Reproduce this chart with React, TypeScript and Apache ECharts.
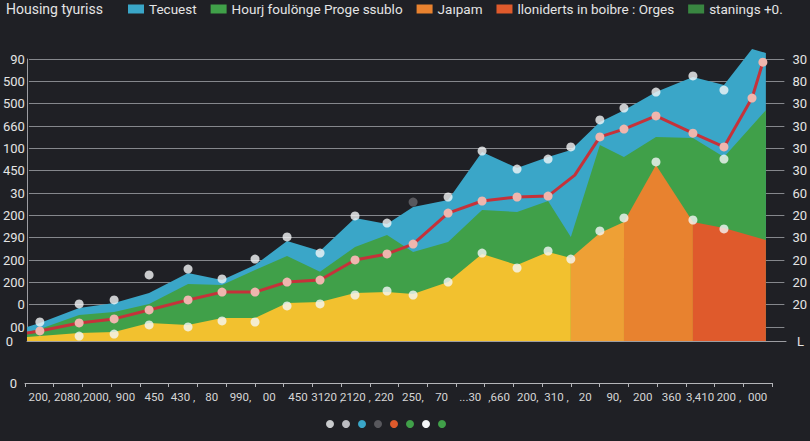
import { useEffect, useRef } from "react";
import * as echarts from "echarts";

// x positions are periods along the axis, y values are in chart units
const blueArea: [number, number][] = [
  [0, 63], [0.39, 81], [1.58, 148], [2.64, 170], [3.7, 215], [4.88, 305],
  [5.91, 273], [6.91, 340], [7.88, 448], [8.88, 403], [9.94, 551], [10.91, 524],
  [11.7, 600], [12.76, 631], [13.79, 846], [14.85, 775], [15.79, 824], [16.48, 855],
  [17.36, 981], [18.09, 1034], [19.06, 1115], [20.18, 1182], [21.12, 1146],
  [21.97, 1308], [22.39, 1290],
];
const greenArea: [number, number][] = [
  [0, 40], [0.39, 54], [1.58, 116], [2.64, 130], [3.7, 166], [4.88, 255],
  [5.91, 251], [6.91, 318], [7.88, 381], [8.88, 310], [9.94, 421], [10.91, 475],
  [11.7, 399], [12.76, 443], [13.79, 587], [14.85, 578], [15.79, 627], [16.48, 466],
  [17.36, 878], [18.09, 824], [19.06, 914], [20.18, 909], [21.12, 824], [22.39, 1034],
];
const yellowArea: [number, number][] = [
  [0, 18], [0.39, 22], [1.58, 36], [2.64, 40], [3.7, 81], [4.88, 72],
  [5.91, 103], [6.91, 103], [7.88, 170], [8.88, 175], [9.94, 215], [10.91, 219],
  [11.7, 210], [12.76, 264], [13.79, 390], [14.85, 340], [15.79, 399], [16.48, 372],
];
const lightOrangeArea: [number, number][] = [[16.48, 372], [17.36, 484], [18.09, 533]];
const orangeArea: [number, number][] = [[18.09, 533], [19.06, 788], [20.18, 533]];
const redArea: [number, number][] = [[20.18, 533], [21.12, 506], [22.39, 452]];

const trendLine: [number, number][] = [
  [0, 36], [0.39, 45], [1.58, 81], [2.64, 99], [3.7, 139], [4.88, 184],
  [5.91, 219], [6.91, 219], [7.88, 264], [8.88, 273], [9.94, 363], [10.91, 390],
  [11.7, 434], [12.76, 573], [13.79, 627], [14.85, 645], [15.79, 649], [16.6, 743],
  [17.36, 914], [18.09, 949], [19.06, 1008], [20.18, 931], [21.12, 869],
  [21.97, 1088], [22.3, 1249],
];
const trendNoMarker = [0, 17];

const peakDots: [number, number][] = [
  [0.39, 85], [1.58, 166], [2.64, 184], [3.7, 296], [4.88, 322], [5.91, 278],
  [6.91, 367], [7.88, 466], [8.88, 394], [9.94, 560], [10.91, 528], [12.76, 645],
  [13.79, 851], [14.85, 770], [15.79, 815], [16.48, 869], [17.36, 990],
  [18.09, 1043], [19.06, 1115], [20.18, 1187], [21.12, 1124],
];
const baseDots: [number, number][] = [
  [1.58, 22], [2.64, 31], [3.7, 72], [4.88, 63], [5.91, 90], [6.91, 85],
  [7.88, 157], [8.88, 166], [9.94, 206], [10.91, 224], [11.7, 206], [12.76, 264],
  [13.79, 394], [14.85, 327], [15.79, 403], [16.48, 367], [17.36, 493],
  [18.09, 551], [19.06, 802], [20.18, 542], [21.12, 502], [21.12, 815],
];
const outlierDots: [number, number][] = [[11.7, 622]];

const xLabels = [
  "200,", "2080,", "2000,", "900", "450", "430 ,", "80", "990,", "00", "450",
  "3120 ,", "2120 ,", "220", "250,", "70", "...30", ",660", "200,", "310 ,", "20",
  "90,", "200", "360", "3,410", "200 ,", "000",
];
// gridline labels, top to bottom
const leftLabels = ["90", "500", "500", "660", "100", "450", "30", "200", "290", "200", "200", "0", "00"];
const rightLabels = ["30", "80", "30", "30", "30", "30", "60", "20", "30", "20", "20", "20", ""];

const BG = "#1f2025";
const BLUE = "#3aa6c8";
const GREEN = "#40a049";
const YELLOW = "#f2c12f";
const LIGHT_ORANGE = "#eea035";
const ORANGE = "#e8822f";
const RED = "#df5a2c";
const WHITE = "#f4f6f8";
const TEXT = "#e4e4e4";

const area = (name: string, color: string, data: [number, number][], extra = {}) => ({
  name,
  type: "line",
  data,
  showSymbol: false,
  symbol: "none",
  lineStyle: { width: 0 },
  itemStyle: { color },
  areaStyle: { color, opacity: 1 },
  ...extra,
});

const dots = (name: string, color: string, data: [number, number][]) => ({
  name,
  type: "scatter",
  data,
  symbolSize: 9,
  itemStyle: { color },
  z: 5,
});

export default function App() {
  const chartRef = useRef<HTMLDivElement>(null);

  useEffect(() => {
    if (!chartRef.current) return;
    const chart = echarts.init(chartRef.current, null, { renderer: "svg" });

    const option = {
      animation: false,
      backgroundColor: BG,
      textStyle: { fontFamily: "Roboto" },
      title: {
        text: "Housing tyuriss",
        left: 6,
        top: 2,
        padding: 0,
        textStyle: { color: TEXT, fontSize: 14, fontWeight: "normal" },
      },
      legend: [
        {
          left: 128,
          top: 2,
          padding: 0,
          width: 680,
          icon: "rect",
          itemWidth: 16,
          itemHeight: 9,
          itemGap: 14,
          selectedMode: false,
          textStyle: { color: TEXT, fontSize: 13.5 },
          data: [
            { name: "Tecuest" },
            { name: "Hourj foulönge Proge ssublo" },
            { name: "Jaıpam" },
            { name: "lloniderts in boibre : Orges" },
            { name: "stanings +0.", itemStyle: { color: GREEN } },
          ],
        },
        {
          left: 326,
          top: 420,
          padding: 0,
          icon: "circle",
          itemWidth: 8,
          itemHeight: 8,
          itemGap: 8,
          selectedMode: false,
          formatter: () => "",
          data: [
            { name: "peaks" },
            { name: "stanings +0.", itemStyle: { color: "#e2e4e8" } },
            { name: "Tecuest" },
            { name: "outlier" },
            { name: "lloniderts in boibre : Orges" },
            { name: "Hourj foulönge Proge ssublo" },
            { name: "trend", itemStyle: { color: WHITE } },
            { name: "Housing tyuriss", itemStyle: { color: GREEN } },
          ],
        },
      ],
      grid: [
        { left: 27, right: 24, top: 59, bottom: 100 },
        { left: 25, right: 25, top: 59, bottom: 114 },
        { left: 25, right: 38, top: 378, bottom: 58 },
      ],
      xAxis: [
        {
          gridIndex: 0,
          type: "value",
          min: 0,
          max: 23,
          axisLine: { show: true, lineStyle: { color: "#9c9da2" } },
          axisTick: { show: false },
          axisLabel: { show: false },
          splitLine: { show: false },
        },
        { gridIndex: 1, type: "value", min: 0, max: 1, show: false },
        {
          gridIndex: 2,
          type: "category",
          data: xLabels,
          axisLine: { lineStyle: { color: "#b4b5b9" } },
          axisTick: { show: true, length: 4, lineStyle: { color: "#b4b5b9" } },
          axisLabel: { color: "#d6d6d6", fontSize: 11.5, interval: 0, margin: 8 },
        },
      ],
      yAxis: [
        {
          gridIndex: 0,
          type: "value",
          min: 0,
          max: 1263,
          interval: 1263,
          axisLine: { show: true, lineStyle: { color: "#9c9da2" } },
          axisTick: { show: false },
          splitLine: { show: false },
          axisLabel: {
            color: TEXT,
            fontSize: 13,
            margin: 14,
            formatter: (v: number) => (v === 0 ? "0" : ""),
          },
        },
        {
          gridIndex: 0,
          type: "value",
          position: "right",
          min: 0,
          max: 1263,
          interval: 1263,
          axisLine: { show: false },
          axisTick: { show: false },
          splitLine: { show: false },
          axisLabel: {
            color: TEXT,
            fontSize: 13,
            margin: 11,
            formatter: (v: number) => (v === 0 ? "L" : ""),
          },
        },
        {
          gridIndex: 1,
          type: "value",
          min: 0,
          max: 12,
          interval: 1,
          axisLine: { show: false },
          axisTick: { show: false },
          splitLine: { lineStyle: { color: "#85878c", width: 1 } },
          axisLabel: {
            color: TEXT,
            fontSize: 13,
            margin: 4,
            formatter: (v: number) => leftLabels[12 - v] ?? "",
          },
        },
        {
          gridIndex: 1,
          type: "value",
          position: "right",
          min: 0,
          max: 12,
          interval: 1,
          axisLine: { show: false },
          axisTick: { show: false },
          splitLine: { show: false },
          axisLabel: {
            color: TEXT,
            fontSize: 13,
            margin: 8,
            formatter: (v: number) => rightLabels[12 - v] ?? "",
          },
        },
        {
          gridIndex: 2,
          type: "value",
          min: 0,
          max: 1,
          interval: 1,
          axisLine: { show: false },
          axisTick: { show: false },
          splitLine: { show: false },
          axisLabel: {
            color: TEXT,
            fontSize: 13,
            margin: 8,
            formatter: (v: number) => (v === 0 ? "0" : ""),
          },
        },
      ],
      series: [
        area("Tecuest", BLUE, blueArea, { clip: false }),
        area("Hourj foulönge Proge ssublo", GREEN, greenArea),
        area("Housing tyuriss", YELLOW, yellowArea),
        area("Proge", LIGHT_ORANGE, lightOrangeArea),
        area("Jaıpam", ORANGE, orangeArea),
        area("lloniderts in boibre : Orges", RED, redArea),
        {
          name: "trend",
          type: "line",
          data: trendLine.map((p, i) =>
            trendNoMarker.includes(i) ? { value: p, symbol: "none" } : { value: p }
          ),
          symbol: "circle",
          symbolSize: 9,
          showAllSymbol: true,
          itemStyle: { color: "#efb6ae" },
          lineStyle: { color: "#c5323a", width: 3 },
          z: 4,
        },
        dots("peaks", WHITE, peakDots),
        dots("stanings +0.", WHITE, baseDots),
        dots("outlier", "#66676c", outlierDots),
      ],
    };

    chart.setOption(option as any);
    return () => chart.dispose();
  }, []);

  return (
    <div
      ref={chartRef}
      style={{ position: "fixed", left: 0, top: 0, width: 810, height: 441 }}
    />
  );
}
